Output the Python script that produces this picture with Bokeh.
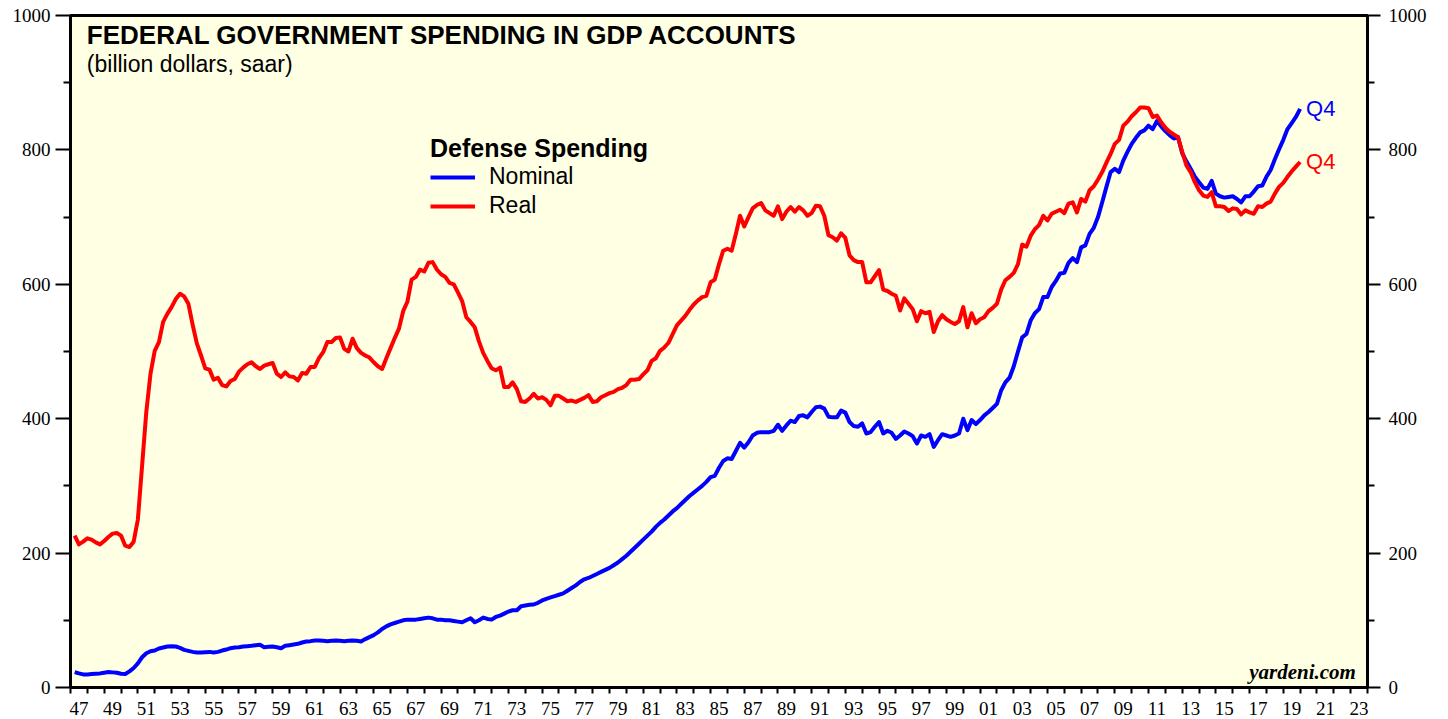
from bokeh.plotting import figure
from bokeh.models import FixedTicker, LinearAxis, Range1d, Label, Legend, LegendItem
from bokeh.core.properties import value
from bokeh.embed import file_html
from bokeh.resources import INLINE

# ---------------- data ----------------
title_text = "FEDERAL GOVERNMENT SPENDING IN GDP ACCOUNTS"
subtitle_text = "(billion dollars, saar)"
legend_title = "Defense Spending"
series_names = ["Nominal", "Real"]
end_label = "Q4"
credit_text = "yardeni.com"

# quarterly readings, Q1..Q4 of each year 1947-2019 (billion dollars, saar)
nominal = [
    23, 21, 19.5, 19.5,      # 1947
    20, 20.5, 21, 22,        # 1948
    23, 22.5, 22, 20.5,      # 1949
    20, 24, 29, 36,          # 1950
    45, 51, 54, 55,          # 1951
    58, 59.5, 61, 61.5,      # 1952
    61, 59, 56, 54.5,        # 1953
    53, 52, 52, 52.5,        # 1954
    53, 52, 53, 55,          # 1955
    56.5, 58.5, 59.5, 60,    # 1956
    61, 61.5, 62, 63,        # 1957
    63.5, 60, 60.5, 61,      # 1958
    60, 58.5, 62, 63,        # 1959
    64, 65, 67, 68.5,        # 1960
    69, 70, 70, 69.5,        # 1961
    69, 69.5, 70, 69.5,      # 1962
    69, 69.5, 70, 69.5,      # 1963
    68.5, 72, 75, 78,        # 1964
    82, 87, 91, 94,          # 1965
    96, 98, 100, 101,        # 1966
    101, 101, 102, 103,      # 1967
    104, 103, 101, 101,      # 1968
    100, 100, 99, 98,        # 1969
    97, 100, 103, 97,        # 1970
    100, 104, 102, 101,      # 1971
    105, 107, 110, 113,      # 1972
    115, 115, 121, 122,      # 1973
    123, 123.5, 126, 129.5,  # 1974
    132, 134, 136, 138,      # 1975
    140, 144, 148, 152,      # 1976
    157, 161, 163, 166,      # 1977
    169, 172, 175, 178,      # 1978
    182, 186, 191, 196,      # 1979
    202, 208, 214, 220,      # 1980
    226, 232, 239, 245,      # 1981
    250, 256, 262, 267,      # 1982
    273, 279, 285, 290,      # 1983
    295, 300, 306, 313,      # 1984
    315, 327, 337, 341,      # 1985
    340, 352, 364, 357,      # 1986
    365, 375, 379, 380,      # 1987
    380, 380, 382, 391,      # 1988
    382, 390, 397, 395,      # 1989
    404, 405, 402, 410,      # 1990
    417, 418, 415, 403,      # 1991
    402, 402, 412, 409,      # 1992
    395, 389, 388, 393,      # 1993
    378, 380, 388, 395,      # 1994
    378, 382, 379, 370,      # 1995
    375, 381, 378, 374,      # 1996
    363, 375, 373, 377,      # 1997
    358, 368, 377, 375,      # 1998
    373, 375, 378, 400,      # 1999
    383, 398, 392, 398,      # 2000
    405, 410, 416, 422,      # 2001
    442, 454, 461, 478,      # 2002
    500, 521, 526, 546,      # 2003
    557, 563, 581, 581,      # 2004
    596, 605, 616, 617,      # 2005
    632, 639, 633, 655,      # 2006
    658, 675, 684, 700,      # 2007
    722, 745, 767, 772,      # 2008
    767, 784, 797, 809,      # 2009
    818, 826, 829, 836,      # 2010
    831, 843, 835, 828,      # 2011
    822, 817, 819, 795,      # 2012
    783, 772, 760, 752,      # 2013
    744, 742, 754, 735,      # 2014
    731, 729, 730, 731,      # 2015
    727, 722, 731, 731,      # 2016
    738, 746, 747, 760,      # 2017
    770, 786, 801, 815,      # 2018
    831, 840, 849, 861,      # 2019
]

real = [
    226, 213, 217, 222,      # 1947
    220, 216, 213, 218,      # 1948
    224, 229, 230, 226,      # 1949
    211, 209, 217, 250,      # 1950
    330, 410, 467, 501,      # 1951
    514, 544, 556, 566,      # 1952
    578, 586, 582, 571,      # 1953
    540, 512, 494, 475,      # 1954
    473, 458, 461, 450,      # 1955
    448, 456, 459, 470,      # 1956
    476, 481, 484, 478,      # 1957
    474, 479, 481, 483,      # 1958
    467, 462, 469, 463,      # 1959
    462, 457, 468, 467,      # 1960
    477, 477, 490, 499,      # 1961
    514, 514, 520, 521,      # 1962
    504, 500, 519, 505,      # 1963
    498, 494, 491, 484,      # 1964
    478, 474, 490, 505,      # 1965
    520, 534, 560, 574,      # 1966
    607, 611, 622, 619,      # 1967
    632, 633, 622, 615,      # 1968
    611, 602, 600, 588,      # 1969
    575, 551, 544, 536,      # 1970
    515, 498, 486, 475,      # 1971
    472, 476, 447, 447,      # 1972
    454, 444, 426, 425,      # 1973
    430, 437, 430, 432,      # 1974
    428, 420, 434, 434,      # 1975
    430, 426, 427, 425,      # 1976
    428, 431, 435, 425,      # 1977
    426, 432, 435, 438,      # 1978
    440, 444, 446, 450,      # 1979
    458, 458, 459, 466,      # 1980
    472, 486, 490, 501,      # 1981
    506, 513, 526, 539,      # 1982
    546, 553, 562, 570,      # 1983
    576, 581, 583, 603,      # 1984
    607, 630, 650, 653,      # 1985
    650, 675, 702, 686,      # 1986
    700, 713, 718, 721,      # 1987
    710, 706, 702, 716,      # 1988
    697, 708, 715, 708,      # 1989
    715, 710, 702, 706,      # 1990
    717, 716, 702, 673,      # 1991
    670, 665, 676, 669,      # 1992
    643, 636, 633, 633,      # 1993
    603, 603, 612, 621,      # 1994
    592, 590, 586, 583,      # 1995
    561, 579, 571, 563,      # 1996
    545, 560, 557, 559,      # 1997
    529, 545, 554, 548,      # 1998
    544, 541, 545, 566,      # 1999
    536, 557, 542, 548,      # 2000
    551, 560, 565, 571,      # 2001
    592, 606, 611, 617,      # 2002
    630, 659, 656, 672,      # 2003
    682, 688, 702, 695,      # 2004
    705, 708, 711, 706,      # 2005
    720, 722, 707, 727,      # 2006
    723, 740, 746, 756,      # 2007
    767, 781, 794, 809,      # 2008
    815, 836, 842, 850,      # 2009
    856, 863, 863, 862,      # 2010
    849, 851, 841, 833,      # 2011
    827, 823, 819, 797,      # 2012
    777, 767, 752, 740,      # 2013
    732, 730, 737, 716,      # 2014
    716, 715, 709, 713,      # 2015
    712, 704, 710, 707,      # 2016
    705, 716, 715, 720,      # 2017
    723, 735, 745, 751,      # 2018
    760, 768, 775, 782,      # 2019
]

# time axis: each quarter plotted at its end
dates = [y + 0.25 * q for y in range(1947, 2020) for q in (1, 2, 3, 4)]

y_ticks = [0, 200, 400, 600, 800, 1000]
y_minor_ticks = [100, 300, 500, 700, 900]
x_label_years = list(range(1947, 2024, 2))
x_tick_labels = ["47", "49", "51", "53", "55", "57", "59", "61", "63", "65",
                 "67", "69", "71", "73", "75", "77", "79", "81", "83", "85",
                 "87", "89", "91", "93", "95", "97", "99", "01", "03", "05",
                 "07", "09", "11", "13", "15", "17", "19", "21", "23"]
x_minor_years = list(range(1947, 2025))

BLUE = "#0000FF"
RED = "#FF0000"
BG = "#FFFFE4"

# ---------------- figure ----------------
p = figure(frame_width=1297, frame_height=672,
           x_range=Range1d(1947, 2024), y_range=Range1d(0, 1000),
           x_axis_type=None, y_axis_type=None,
           output_backend="svg", toolbar_location=None,
           min_border_left=70, min_border_right=73,
           min_border_top=15, min_border_bottom=30,
           background_fill_color=BG, border_fill_color="white")
p.xgrid.visible = False
p.ygrid.visible = False
p.outline_line_color = "black"
p.outline_line_width = 3

tick_font = "Liberation Serif"

xaxis = LinearAxis(
    ticker=FixedTicker(ticks=[y + 0.5 for y in x_label_years], minor_ticks=x_minor_years),
    major_label_overrides={y + 0.5: lab for y, lab in zip(x_label_years, x_tick_labels)},
    major_tick_out=0, major_tick_in=0,
    minor_tick_out=6, minor_tick_in=0, minor_tick_line_width=2,
    axis_line_width=3, major_label_standoff=8,
    major_label_text_font=tick_font, major_label_text_font_size="19px",
    major_label_text_color="black")
p.add_layout(xaxis, "below")

for loc, tout, stand in (("left", 15, 5), ("right", 13, 8)):
    ax = LinearAxis(
        ticker=FixedTicker(ticks=y_ticks, minor_ticks=y_minor_ticks),
        major_tick_out=tout, major_tick_in=0, major_tick_line_width=2,
        minor_tick_out=7, minor_tick_in=0, minor_tick_line_width=2,
        axis_line_width=3, major_label_standoff=stand,
        major_label_text_font=tick_font, major_label_text_font_size="19px",
        major_label_text_color="black")
    p.add_layout(ax, loc)

r_nom = p.line(dates, nominal, line_color=BLUE, line_width=4, line_join="round")
r_real = p.line(dates, real, line_color=RED, line_width=4, line_join="round")

p.text(x=[dates[-1], dates[-1]], y=[nominal[-1], real[-1]],
       text=[end_label, end_label], text_color=[BLUE, RED],
       x_offset=6, text_baseline="middle", text_align="left",
       text_font=value("Liberation Sans"), text_font_size="22px")

legend = Legend(
    items=[LegendItem(label=series_names[0], renderers=[r_nom]),
           LegendItem(label=series_names[1], renderers=[r_real])],
    title=legend_title, location=(360, 468),
    background_fill_alpha=0, border_line_alpha=0,
    title_text_font="Liberation Sans", title_text_font_style="bold",
    title_text_font_size="25px", title_standoff=0, title_text_color="black",
    label_text_font="Liberation Sans", label_text_font_size="23px",
    label_text_color="black",
    glyph_width=45, glyph_height=26, label_height=26, spacing=2,
    padding=0, margin=0, label_standoff=14)
p.add_layout(legend)

p.add_layout(Label(x=1947.97, y=971.7, text=title_text, text_color="black",
                   text_font="Liberation Sans", text_font_style="bold",
                   text_font_size="26px", text_baseline="alphabetic"))
p.add_layout(Label(x=1947.97, y=927.1, text=subtitle_text, text_color="black",
                   text_font="Liberation Sans", text_font_size="23px",
                   text_baseline="alphabetic"))
p.add_layout(Label(x=2023.31, y=22.8, text=credit_text, text_align="right",
                   text_color="black",
                   text_font="Liberation Serif", text_font_style="bold italic",
                   text_font_size="21px", text_baseline="alphabetic"))

open("out.html", "w").write(file_html(p, INLINE))
